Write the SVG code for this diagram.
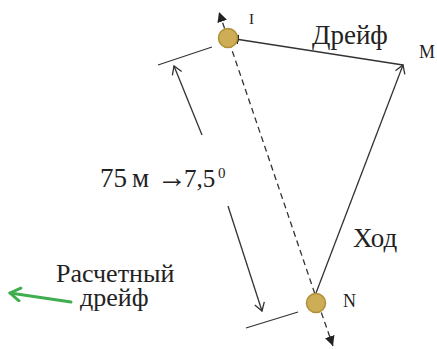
<svg xmlns="http://www.w3.org/2000/svg" width="437" height="349" viewBox="0 0 437 349">
<style>
  .t { font-family: "Liberation Serif", "DejaVu Serif", "Times New Roman", serif; fill: #222; }
  .ln { stroke: #333; stroke-width: 1.3; fill: none; }
  .pt { fill: #cdad55; stroke: #b08f35; stroke-width: 1.5; }
</style>
<defs>
  <marker id="open" markerWidth="12" markerHeight="12" refX="10" refY="6" orient="auto" markerUnits="userSpaceOnUse">
    <path d="M2,1 L10,6 L2,11" fill="none" stroke="#333" stroke-width="1.3"/>
  </marker>
  <marker id="solid" markerWidth="12" markerHeight="10" refX="10" refY="5" orient="auto" markerUnits="userSpaceOnUse">
    <path d="M0,0 L10,5 L0,10 Z" fill="#222"/>
  </marker>
  <marker id="green" markerWidth="16" markerHeight="16" refX="13" refY="8" orient="auto" markerUnits="userSpaceOnUse">
    <path d="M3,1.5 L13,8 L3,14.5" fill="none" stroke="#3fae4f" stroke-width="3" stroke-linecap="round" stroke-linejoin="round"/>
  </marker>
</defs>
<rect width="437" height="349" fill="#fff"/>
<g id="connectors">
  <line class="ln" x1="318" y1="303" x2="219" y2="12" stroke-dasharray="6,4" stroke-width="1.6" stroke="#222" marker-end="url(#solid)"/>
  <line class="ln" x1="318" y1="303" x2="333" y2="346" stroke-dasharray="6,4" stroke-width="1.6" stroke="#222" marker-end="url(#solid)"/>
  <line class="ln" x1="403" y1="65" x2="229" y2="38" marker-end="url(#solid)"/>
  <line class="ln" x1="316" y1="293" x2="403" y2="65" marker-end="url(#open)"/>
  <line class="ln" x1="202" y1="135" x2="174" y2="66" marker-end="url(#open)"/>
  <line class="ln" x1="228" y1="206" x2="262" y2="311" marker-end="url(#open)"/>
  <line class="ln" x1="158" y1="65" x2="212" y2="47"/>
  <line class="ln" x1="246" y1="328" x2="298" y2="312"/>
  <line x1="71" y1="302" x2="10" y2="293" stroke="#3fae4f" stroke-width="3" stroke-linecap="round" marker-end="url(#green)"/>
</g>
<g id="node-I">
  <circle class="pt" cx="228" cy="38" r="9.5"/>
  <text class="t" x="249" y="24" font-size="15">I</text>
</g>
<g id="node-N">
  <circle class="pt" cx="316" cy="303" r="9.5"/>
  <text class="t" x="343" y="307" font-size="18">N</text>
</g>
<g id="node-M">
  <text class="t" x="419" y="58" font-size="18">М</text>
</g>
<g id="labels">
  <text class="t" x="312" y="44" font-size="27">Дрейф</text>
  <text class="t" x="353" y="247" font-size="27">Ход</text>
  <text class="t" y="187" font-size="27"><tspan x="100">75</tspan><tspan x="132">м</tspan><tspan x="157" font-size="30" font-weight="bold">→</tspan><tspan x="184" font-size="25">7,5</tspan></text>
  <text class="t" x="218" y="178" font-size="15">0</text>
  <text class="t" x="56" y="282" font-size="26">Расчетный</text>
  <text class="t" x="80" y="306" font-size="26">дрейф</text>
</g>
</svg>
